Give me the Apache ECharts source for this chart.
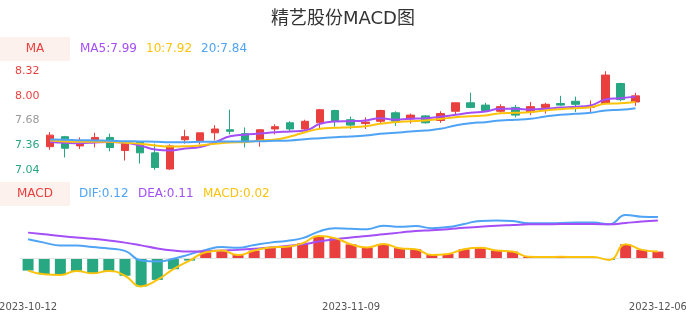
<!DOCTYPE html>
<html>
<head>
<meta charset="utf-8">
<script src="https://cdn.jsdelivr.net/npm/echarts@6/dist/echarts.min.js"></script>
<style>
html,body{margin:0;padding:0;background:#fff;}
#chart{width:686px;height:320px;}
</style>
</head>
<body>
<div id="chart"></div>
<script>
const dates = ['2023-10-12','2023-10-13','2023-10-16','2023-10-17','2023-10-18','2023-10-19','2023-10-20','2023-10-23','2023-10-24','2023-10-25','2023-10-26','2023-10-27','2023-10-30','2023-10-31','2023-11-01','2023-11-02','2023-11-03','2023-11-06','2023-11-07','2023-11-08','2023-11-09','2023-11-10','2023-11-13','2023-11-14','2023-11-15','2023-11-16','2023-11-17','2023-11-20','2023-11-21','2023-11-22','2023-11-23','2023-11-24','2023-11-27','2023-11-28','2023-11-29','2023-11-30','2023-12-01','2023-12-04','2023-12-05','2023-12-06'];
const opens  = [7.34,7.47,7.35,7.42,7.46,7.29,7.40,7.26,7.05,7.43,7.42,7.52,7.56,7.51,7.42,7.57,7.65,7.57,7.65,7.81,7.69,7.64,7.67,7.78,7.70,7.74,7.68,7.80,7.91,7.88,7.80,7.85,7.79,7.85,7.90,7.93,7.85,7.90,8.16,7.92];
const closes = [7.49,7.32,7.38,7.46,7.33,7.38,7.26,7.07,7.35,7.47,7.52,7.57,7.54,7.40,7.56,7.60,7.57,7.67,7.82,7.67,7.62,7.66,7.81,7.67,7.75,7.65,7.77,7.91,7.85,7.81,7.86,7.75,7.86,7.89,7.88,7.89,7.86,8.27,7.95,8.00];
const highs  = [7.53,7.48,7.46,7.52,7.51,7.40,7.40,7.38,7.37,7.56,7.52,7.62,7.82,7.59,7.56,7.63,7.67,7.69,7.83,7.82,7.73,7.72,7.82,7.80,7.77,7.75,7.80,7.91,8.04,7.91,7.89,7.88,7.92,7.91,8.00,7.99,7.94,8.32,8.17,8.04];
const lows   = [7.30,7.20,7.31,7.33,7.28,7.16,7.12,7.04,7.04,7.38,7.37,7.42,7.50,7.33,7.34,7.50,7.54,7.54,7.58,7.60,7.57,7.57,7.64,7.61,7.64,7.64,7.65,7.75,7.84,7.79,7.77,7.72,7.75,7.77,7.87,7.79,7.79,7.90,7.93,7.87];
const ma5  = [7.40,7.39,7.385,7.395,7.40,7.39,7.356,7.304,7.291,7.317,7.336,7.398,7.475,7.496,7.511,7.528,7.537,7.55,7.637,7.667,7.671,7.68,7.71,7.689,7.702,7.71,7.728,7.754,7.78,7.797,7.832,7.832,7.823,7.832,7.849,7.858,7.875,7.953,7.97,7.99];
const ma10 = [7.421,7.408,7.404,7.404,7.404,7.391,7.378,7.356,7.343,7.346,7.356,7.378,7.395,7.398,7.421,7.433,7.472,7.528,7.572,7.585,7.593,7.606,7.637,7.658,7.671,7.68,7.70,7.723,7.736,7.745,7.775,7.78,7.788,7.81,7.827,7.84,7.853,7.897,7.905,7.92];
const ma20 = [7.433,7.43,7.424,7.421,7.417,7.411,7.408,7.404,7.398,7.398,7.404,7.404,7.408,7.408,7.411,7.417,7.421,7.437,7.45,7.463,7.472,7.485,7.508,7.52,7.537,7.55,7.572,7.615,7.645,7.658,7.68,7.689,7.702,7.732,7.754,7.767,7.78,7.81,7.819,7.84];
const dif  = [0.056,0.046,0.038,0.038,0.033,0.029,0.022,-0.006,-0.009,-0.001,0.012,0.025,0.033,0.031,0.039,0.046,0.051,0.059,0.078,0.088,0.086,0.085,0.095,0.092,0.094,0.088,0.091,0.100,0.109,0.110,0.109,0.102,0.102,0.103,0.104,0.104,0.099,0.126,0.121,0.12];
const dea  = [0.075,0.070,0.065,0.061,0.057,0.052,0.046,0.038,0.029,0.023,0.020,0.021,0.023,0.025,0.028,0.032,0.036,0.041,0.049,0.056,0.061,0.065,0.070,0.075,0.080,0.082,0.085,0.089,0.092,0.095,0.097,0.099,0.099,0.100,0.100,0.100,0.099,0.103,0.107,0.11];
const macd = [-0.035,-0.046,-0.048,-0.036,-0.043,-0.036,-0.050,-0.081,-0.062,-0.031,-0.006,0.018,0.023,0.010,0.023,0.032,0.034,0.044,0.065,0.059,0.041,0.032,0.042,0.030,0.027,0.010,0.013,0.027,0.031,0.023,0.020,0.005,0.004,0.005,0.004,0.004,-0.004,0.041,0.025,0.02];
const priceTicks = [7.04,7.36,7.68,8.00,8.32];
const shownDates = ['2023-10-12','2023-11-09','2023-12-06'];
const refPrice = 7.68;

const RED = '#e9403f', GREEN = '#27a782', GRAY = '#999999';
const PURPLE = '#a44ef7', YELLOW = '#fcc30c', BLUE = '#4fa3f5';
const FONT = '"DejaVu Sans","Noto Sans CJK SC",sans-serif';

const candleData = dates.map((d, i) => [opens[i], closes[i], lows[i], highs[i]]);
const last = a => a[a.length - 1].toFixed(2);

function txt(x, y, text, color, align) {
  return { type: 'text', x: x, y: y, silent: true,
    style: { text: text, fill: color, font: '12px ' + FONT, align: align || 'left', verticalAlign: 'middle' } };
}

const chart = echarts.init(document.getElementById('chart'), null, { renderer: 'canvas' });
chart.setOption({
  animation: false,
  backgroundColor: '#fff',
  textStyle: { fontFamily: FONT },
  title: { text: '精艺股份MACD图', left: 'center', top: 5,
    textStyle: { fontSize: 18, fontWeight: 'normal', color: '#333', fontFamily: FONT } },
  graphic: [
    { type: 'rect', shape: { x: 0, y: 37, width: 70, height: 24 }, style: { fill: '#fdf1ed' }, silent: true },
    txt(35, 49, 'MA', RED, 'center'),
    txt(80, 49, 'MA5:' + last(ma5), PURPLE),
    txt(146, 49, '10:' + last(ma10), YELLOW),
    txt(201, 49, '20:' + last(ma20), BLUE),
    { type: 'rect', shape: { x: 0, y: 182, width: 70, height: 24 }, style: { fill: '#fdf1ed' }, silent: true },
    txt(35, 194, 'MACD', RED, 'center'),
    txt(79, 194, 'DIF:' + last(dif), BLUE),
    txt(138, 194, 'DEA:' + last(dea), PURPLE),
    txt(203, 194, 'MACD:' + last(macd), YELLOW)
  ],
  grid: [
    { left: 42.5, right: 43, top: 71.2, height: 98.6, outerBoundsMode: 'none', containLabel: false },
    { left: 20, right: 20, top: 206.75, height: 86.25, outerBoundsMode: 'none', containLabel: false }
  ],
  xAxis: [
    { type: 'category', gridIndex: 0, data: dates, boundaryGap: true,
      axisLine: { show: false }, axisTick: { show: false }, axisLabel: { show: false }, splitLine: { show: false } },
    { type: 'category', gridIndex: 1, data: dates, boundaryGap: true,
      axisLine: { show: false }, axisTick: { show: false }, splitLine: { show: false },
      axisLabel: { color: '#555', fontSize: 10, margin: 9, fontFamily: FONT, hideOverlap: false,
        interval: (idx, val) => shownDates.indexOf(val) >= 0 } }
  ],
  yAxis: [
    { type: 'value', gridIndex: 0, min: priceTicks[0], max: priceTicks[priceTicks.length - 1],
      interval: priceTicks[1] - priceTicks[0],
      axisLine: { show: false }, axisTick: { show: false }, splitLine: { show: false },
      axisLabel: { align: 'left', margin: 27.5, fontSize: 11, fontFamily: FONT,
        formatter: v => v.toFixed(2),
        color: v => (Math.abs(v - refPrice) < 1e-6 ? GRAY : (v > refPrice ? RED : GREEN)) } },
    { type: 'value', gridIndex: 1, min: -0.1, max: 0.15, show: false, splitLine: { show: false } }
  ],
  series: [
    { type: 'candlestick', xAxisIndex: 0, yAxisIndex: 0, data: candleData, barWidth: 8,
      itemStyle: { color: RED, color0: GREEN, borderColor: RED, borderColor0: GREEN, borderWidth: 1 } },
    { type: 'line', xAxisIndex: 0, yAxisIndex: 0, data: ma5, smooth: true, showSymbol: false,
      lineStyle: { color: PURPLE, width: 2 }, z: 5 },
    { type: 'line', xAxisIndex: 0, yAxisIndex: 0, data: ma10, smooth: true, showSymbol: false,
      lineStyle: { color: YELLOW, width: 2 }, z: 5 },
    { type: 'line', xAxisIndex: 0, yAxisIndex: 0, data: ma20, smooth: true, showSymbol: false,
      lineStyle: { color: BLUE, width: 2 }, z: 5 },
    { type: 'bar', xAxisIndex: 1, yAxisIndex: 1, data: macd, barWidth: 11,
      itemStyle: { color: p => (p.value >= 0 ? RED : GREEN) },
      markLine: { silent: true, symbol: 'none', label: { show: false },
        lineStyle: { color: '#e3e3e3', width: 1, type: 'solid' }, data: [{ yAxis: 0 }] } },
    { type: 'line', xAxisIndex: 1, yAxisIndex: 1, data: dif, smooth: true, showSymbol: false,
      lineStyle: { color: BLUE, width: 2 }, z: 5 },
    { type: 'line', xAxisIndex: 1, yAxisIndex: 1, data: dea, smooth: true, showSymbol: false,
      lineStyle: { color: PURPLE, width: 2 }, z: 5 },
    { type: 'line', xAxisIndex: 1, yAxisIndex: 1, data: macd, smooth: true, showSymbol: false,
      lineStyle: { color: YELLOW, width: 2 }, z: 6 }
  ]
});
</script>
</body>
</html>
